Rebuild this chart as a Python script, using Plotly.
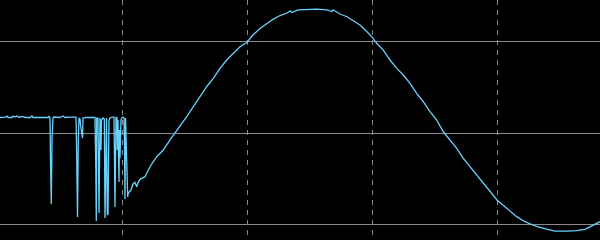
import plotly.graph_objects as go

# sample index
t = [3, 8, 10, 11, 15, 16, 18, 20, 22, 25, 28, 33, 35, 36, 43, 51, 52,
     53, 53.5, 54.3, 55, 56, 57,
     63, 66, 68, 73, 78, 79,
     79.5, 80.5, 81.3, 82, 83, 83.5, 85.5, 86, 89, 93, 98,
     98.7, 99.3, 99.7, 101, 102, 103, 104, 104.5, 106, 107.3, 108, 109, 109.5,
     110.3, 111, 112, 113, 115, 117, 118, 119, 120, 120.3, 121, 122, 122.5,
     123, 124, 124.7, 126, 127, 127.5, 128, 128.5, 129, 129.7, 130.7, 131.3,
     134, 136, 138, 139.7, 141, 143, 148, 153, 159.7, 166.3, 173, 178, 183,
     189.7, 196.3, 203, 209.7, 216.3, 223, 229.7, 236.3, 243,
     250, 256, 263, 270, 276, 283, 290, 293, 295, 301, 310, 320, 330, 335,
     336, 343, 350, 356, 363, 370, 375, 379.7,
     386.3, 393, 399.7, 406.3, 413, 419.7, 426.3, 433, 439.7, 446.3, 453,
     459.7, 466.3, 473, 479.7, 486.3, 493, 500, 509.7, 519.7, 528, 538,
     549.7, 558, 569.7, 579.7, 588, 593, 599.7, 603]

# signal (divisions)
v = [0.173, 0.178, 0.189, 0.173, 0.173, 0.189, 0.178, 0.189, 0.173, 0.184,
     0.173, 0.173, 0.189, 0.173, 0.173, 0.173, 0.184,
     0.173, -0.314, -0.773, -0.073, 0.167, 0.178,
     0.173, 0.189, 0.173, 0.178, 0.184, 0.178,
     -0.095, -0.915, -0.073, 0.167, 0.156, 0.091, -0.051, 0.167, 0.173, 0.173,
     0.173,
     -0.292, -0.958, 0.167, 0.167, -0.871, 0.167, -0.183, 0.145, 0.167, 0.156,
     -0.926, 0.156, 0.167,
     -0.893, -0.882, 0.145, 0.167, 0.178, 0.178, -0.805, 0.178, 0.167, -0.183,
     0.145, -0.532, 0.036,
     -0.270, 0.145, 0.167, 0.178, 0.167, -0.150, -0.718, 0.167, 0.036, -0.292,
     -0.696, -0.652,
     -0.620, -0.554, -0.536, -0.584, -0.543, -0.503, -0.474, -0.365, -0.256,
     -0.183, -0.073, 0.000, 0.072,
     0.181, 0.291, 0.400, 0.509, 0.601, 0.710, 0.801, 0.874, 0.946,
     0.995, 1.074, 1.145, 1.202, 1.246, 1.287, 1.315, 1.337, 1.320, 1.348,
     1.355, 1.358, 1.350, 1.331,
     1.350, 1.304, 1.274, 1.231, 1.184, 1.110, 1.052, 0.984,
     0.910, 0.801, 0.710, 0.637, 0.546, 0.437, 0.345, 0.236, 0.145, 0.017,
     -0.073,
     -0.164, -0.273, -0.365, -0.456, -0.546, -0.638, -0.729, -0.820, -0.911,
     -0.966, -1.013,
     -1.046, -1.068, -1.068, -1.064, -1.049, -1.021, -0.984, -0.966]

x_grid = [125, 250, 375, 500]
y_grid = [-1, 0, 1]

fig = go.Figure(go.Scatter(x=t, y=v, mode="lines",
                           line=dict(color="#6ad2ff", width=1.3),
                           hoverinfo="skip"))

fig.update_layout(
    width=600, height=240,
    margin=dict(l=0, r=0, t=0, b=0),
    paper_bgcolor="#000000", plot_bgcolor="#000000",
    showlegend=False,
)
fig.update_xaxes(range=[3, 603], tickvals=x_grid, showticklabels=False,
                 showgrid=True, gridcolor="#8a8a8a", gridwidth=1,
                 griddash="5px,5px", zeroline=False, showline=False, ticks="")
fig.update_yaxes(range=[-1.166, 1.457], tickvals=y_grid, showticklabels=False,
                 showgrid=True, gridcolor="#8a8a8a", gridwidth=1,
                 zeroline=False, showline=False, ticks="")

fig.write_html("out.html", config={"displayModeBar": False})
